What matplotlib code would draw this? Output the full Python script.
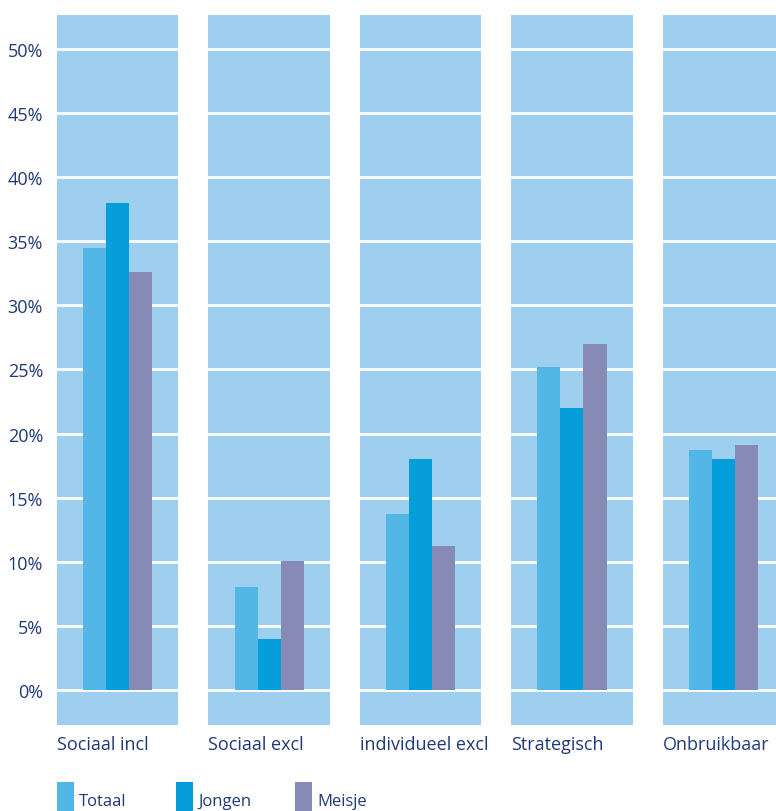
import numpy as np
import matplotlib.pyplot as plt
from matplotlib.patches import Rectangle

categories = ['Sociaal incl', 'Sociaal excl', 'individueel excl', 'Strategisch', 'Onbruikbaar']
series = ['Totaal', 'Jongen', 'Meisje']
totaal = [34.5, 8.0, 13.7, 25.2, 18.7]
jongen = [38.0, 4.0, 18.0, 22.0, 18.0]
meisje = [32.6, 10.1, 11.2, 27.0, 19.1]
yticks = [0, 5, 10, 15, 20, 25, 30, 35, 40, 45, 50]

colors = ['#52B6E6', '#069DDB', '#878AB5']
bg = '#9ECFEE'
txt = '#1F3A78'

plt.rcParams['font.family'] = ['Open Sans', 'DejaVu Sans']

W, H = 776, 812
fig = plt.figure(figsize=(W / 100, H / 100), dpi=100)

# axes placed in pixel terms
left, right, top, bottom = 57, 776, 16, 726
ax = fig.add_axes([left / W, 1 - bottom / H, (right - left) / W, (bottom - top) / H])
ax.set_xlim(-0.4, 4.347)
ax.set_ylim(-2.73, 52.65)
for s in ax.spines.values():
    s.set_visible(False)

x = np.arange(len(categories))
for xi in x:
    ax.axvspan(xi - 0.4, xi + 0.4, color=bg, lw=0, zorder=0)
for t in yticks:
    ax.axhline(t, color='white', lw=2, zorder=1)

w = 0.152
for i, (vals, c) in enumerate(zip([totaal, jongen, meisje], colors)):
    ax.bar(x + (i - 1) * w, vals, width=w, color=c, zorder=2, lw=0)

ax.set_xticks([])
ax.set_yticks(yticks)
ax.set_yticklabels([f'{t}%' for t in yticks], color=txt, fontsize=13)
ax.tick_params(axis='y', length=0, pad=10)

for xi, name in zip(x, categories):
    fig.text((left + 151.5 * xi) / W, 1 - 745 / H, name, ha='left', va='center',
             color=txt, fontsize=13)

# legend
leg_x = [57, 176, 295]
for lx, name, c in zip(leg_x, series, colors):
    fig.add_artist(Rectangle((lx / W, 0), 16.5 / W, (H - 783) / H, transform=fig.transFigure,
                             color=c, lw=0))
    fig.text((lx + 22) / W, 1 - 806 / H, name, ha='left', va='baseline', color=txt,
             fontsize=12)

fig.savefig('out.png', dpi=100)
